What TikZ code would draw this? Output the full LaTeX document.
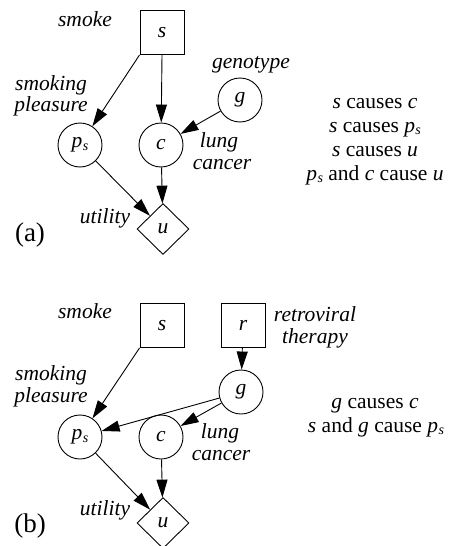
\documentclass[tikz,border=0pt]{standalone}
\usepackage{fontspec}
\setmainfont{Liberation Serif}
\usetikzlibrary{shapes.geometric,arrows.meta}
\newcommand\pss{\textit{p}\kern0.02em\raisebox{-0.3ex}{\fontsize{14}{14}\selectfont\itshape s}}
\begin{document}
\begin{tikzpicture}[x=1pt,y=-1pt,
  every node/.style={font=\fontsize{21.5}{24}\selectfont},
  lab/.style={font=\fontsize{21.5}{24}\selectfont\itshape, anchor=base, inner sep=0pt},
  txt/.style={anchor=base, inner sep=0pt},
  dec/.style={draw, line width=0.9pt, minimum size=44pt, inner sep=0pt},
  chance/.style={draw, circle, line width=0.9pt, minimum size=44pt, inner sep=0pt},
  util/.style={draw, diamond, line width=0.9pt, minimum width=52pt, minimum height=51pt, inner sep=0pt},
  arr/.style={-{Triangle[length=18pt,width=11pt]}, line width=0.9pt},
  tag/.style={font=\fontsize{27}{30}\selectfont, anchor=base, inner sep=0pt}
]
\useasboundingbox (0,0) rectangle (448,546);

% ---------- panel (a) ----------
\node[dec] (as) at (162,32.5) {\textit{s}};
\node[chance] (ag) at (240,100) {\textit{g}};
\node[chance] (aps) at (80,145) {\pss};
\node[chance] (ac) at (161,145) {\textit{c}};
\node[util] (au) at (163,229) {\textit{u}};

\node[lab] (asmoke) at (85,26) {smoke};
\node[lab] (ageno) at (251,68) {genotype};
\node[lab] (asmk1) at (51,90) {smoking};
\node[lab] (asmk2) at (51,111) {pleasure};
\node[lab] (alung1) at (219,147) {lung};
\node[lab] (alung2) at (222,169) {cancer};
\node[lab] (autil) at (105,223) {utility};
\node[tag] (atag) at (30,241) {(a)};

\node[txt] (ar1) at (375,108) {\textit{s} causes \textit{c}};
\node[txt] (ar2) at (375,132) {\textit{s} causes \pss};
\node[txt] (ar3) at (375,156) {\textit{s} causes \textit{u}};
\node[txt] (ar4) at (375,180) {\pss{} and \textit{c} cause \textit{u}};

\draw[arr] (as.south west) -- (aps);
\draw[arr] (as.south) -- (ac);
\draw[arr] (ag) -- (ac);
\draw[arr] (aps) -- (au);
\draw[arr] (ac) -- (au);

% ---------- panel (b) ----------
\node[dec] (bs) at (162,325.5) {\textit{s}};
\node[dec] (br) at (243,325.5) {\textit{r}};
\node[chance] (bg) at (241,392) {\textit{g}};
\node[chance] (bps) at (80,437) {\pss};
\node[chance] (bc) at (161,437) {\textit{c}};
\node[util] (bu) at (163,523) {\textit{u}};

\node[lab] (bsmoke) at (85,318) {smoke};
\node[lab] (bretro1) at (315,321) {retroviral};
\node[lab] (bretro2) at (315,343) {therapy};
\node[lab] (bsmk1) at (51,380) {smoking};
\node[lab] (bsmk2) at (51,402) {pleasure};
\node[lab] (blung1) at (220,438) {lung};
\node[lab] (blung2) at (221,460) {cancer};
\node[lab] (butil) at (105,515) {utility};
\node[tag] (btag) at (30,532) {(b)};

\node[txt] (br1) at (375,408) {\textit{g} causes \textit{c}};
\node[txt] (br2) at (376,432) {\textit{s} and \textit{g} cause \pss};

\draw[arr] (bs.south west) -- (bps);
\draw[arr] (br) -- (bg);
\draw[arr] (bg) -- (bps);
\draw[arr] (bg) -- (bc);
\draw[arr] (bps) -- (bu);
\draw[arr] (bc) -- (bu);
\end{tikzpicture}
\end{document}
